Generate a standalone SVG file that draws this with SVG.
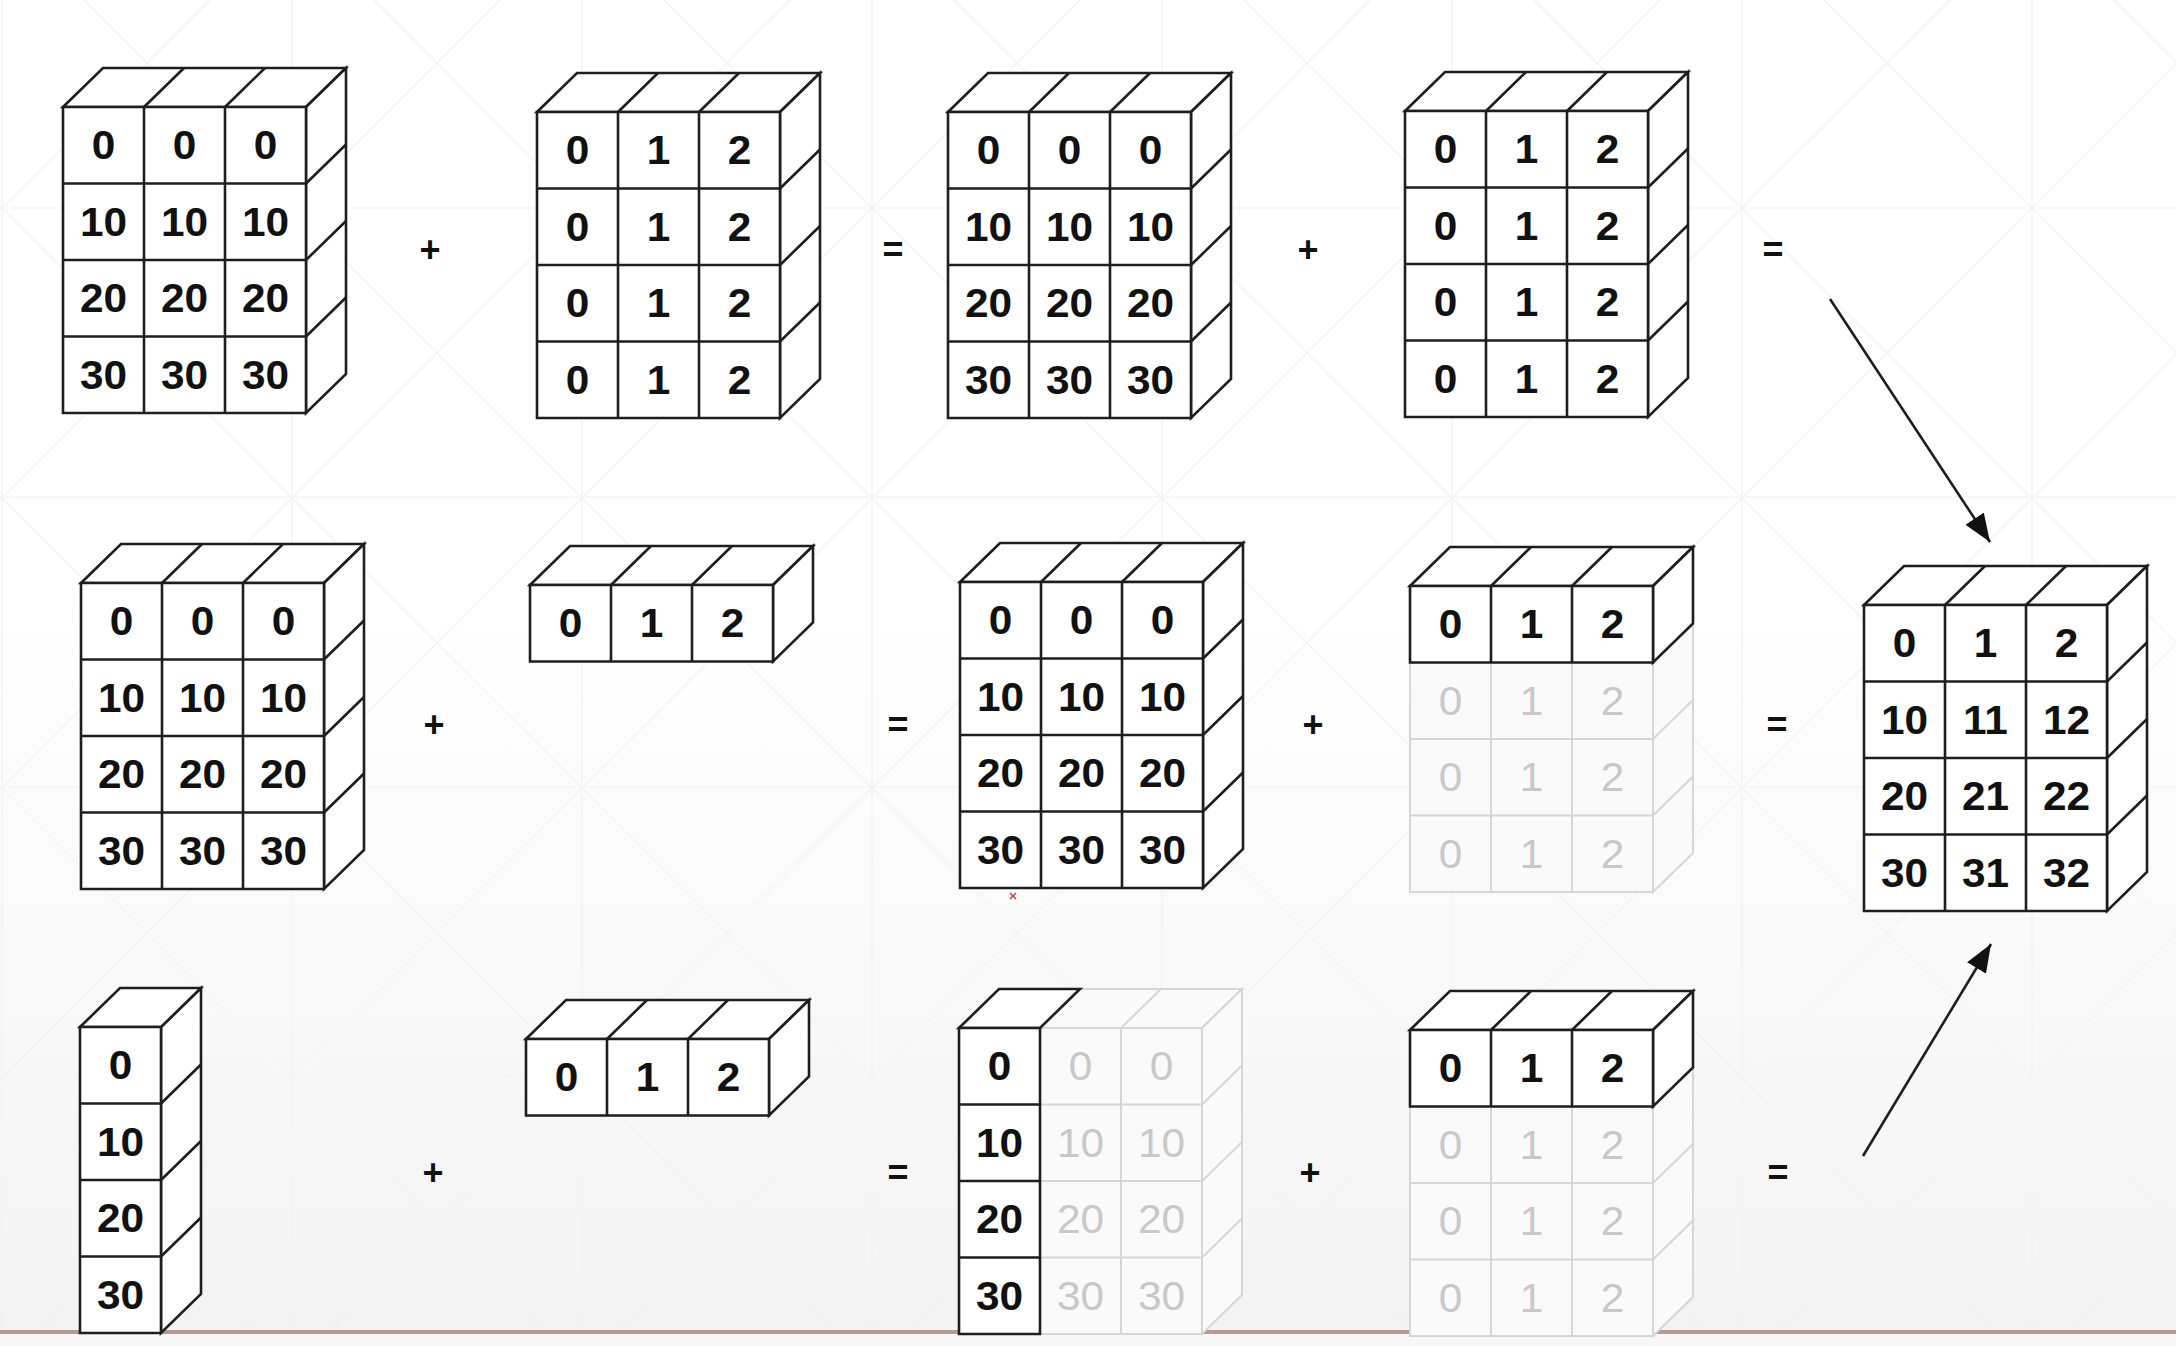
<svg xmlns="http://www.w3.org/2000/svg" xmlns:xlink="http://www.w3.org/1999/xlink" width="2176" height="1346" viewBox="0 0 2176 1346">
<style>
.s{stroke:#1e1e1e;stroke-width:2.6;fill:#ffffff;stroke-linejoin:miter}
.f{stroke:#d6d6d6;stroke-width:2;fill:#fafafa}
.n,.nf,.op{font-family:"Liberation Sans",Arial,sans-serif;text-anchor:middle}
.n{font-weight:700;font-size:40px;fill:#111111;transform-box:fill-box;transform-origin:center;transform:translateY(1.5px) scaleX(1.06)}
.nf{font-weight:400;font-size:40px;fill:#c8c8c8;transform-box:fill-box;transform-origin:center;transform:translateY(1.5px) scaleX(1.06)}
.op{font-weight:700;font-size:36px;fill:#111111}
.grid{stroke:#f2f2f2;stroke-width:1.2;fill:none}
.arrow{stroke:#1e1e1e;stroke-width:2.6;fill:none}
</style>
<defs>
<linearGradient id="bgGrad" x1="0" y1="0" x2="0" y2="1">
<stop offset="0" stop-color="#ffffff"/>
<stop offset="0.45" stop-color="#ffffff"/>
<stop offset="1" stop-color="#f3f3f3"/>
</linearGradient>
<marker id="ah" markerUnits="userSpaceOnUse" markerWidth="30" markerHeight="24" refX="28" refY="11" orient="auto">
<path d="M0,0 L28,11 L0,22 Z" fill="#111111"/>
</marker>
<g id="t3">
<path d="M0,0 L40,-39 L283,-39 L243,0 Z"/>
<path fill="none" d="M81,0 L121,-39 M162,0 L202,-39"/>
</g>
<g id="b34">
<use href="#t3"/>
<path d="M243,0 L283,-39 L283,267 L243,306 Z"/>
<path fill="none" d="M243,76.5 L283,37.5 M243,153 L283,114 M243,229.5 L283,190.5"/>
<path d="M0,0 H243 V306 H0 Z"/>
<path fill="none" d="M81,0 V306 M162,0 V306 M0,76.5 H243 M0,153 H243 M0,229.5 H243"/>
</g>
<g id="b31">
<use href="#t3"/>
<path d="M243,0 L283,-39 L283,37.5 L243,76.5 Z"/>
<path d="M0,0 H243 V76.5 H0 Z"/>
<path fill="none" d="M81,0 V76.5 M162,0 V76.5"/>
</g>
<g id="c14">
<path d="M0,0 L40,-39 L121,-39 L81,0 Z"/>
<path d="M0,0 H81 V306 H0 Z"/>
<path fill="none" d="M0,76.5 H81 M0,153 H81 M0,229.5 H81"/>
</g>
<g id="b14">
<path d="M81,0 L121,-39 L121,267 L81,306 Z"/>
<path fill="none" d="M81,76.5 L121,37.5 M81,153 L121,114 M81,229.5 L121,190.5"/>
<use href="#c14"/>
</g>
</defs>

<g id="background">
<rect x="0" y="0" width="2176" height="1346" fill="url(#bgGrad)"/>
<path class="grid" d="M2,0 V1346 M292,0 V1346 M582,0 V1346 M872,0 V1346 M1162,0 V1346 M1452,0 V1346 M1742,0 V1346 M2032,0 V1346 M0,208 H2176 M0,497 H2176 M0,787 H2176 M0,1076 H2176"/>
<path class="grid" d="M-1366,0 L-20,1346 M-1076,0 L270,1346 M-786,0 L560,1346 M-496,0 L850,1346 M-206,0 L1140,1346 M84,0 L1430,1346 M374,0 L1720,1346 M664,0 L2010,1346 M954,0 L2300,1346 M1244,0 L2590,1346 M1534,0 L2880,1346 M1824,0 L3170,1346 M2114,0 L3460,1346"/>
<path class="grid" d="M210,0 L-1136,1346 M500,0 L-846,1346 M790,0 L-556,1346 M1080,0 L-266,1346 M1370,0 L24,1346 M1660,0 L314,1346 M1950,0 L604,1346 M2240,0 L894,1346 M2530,0 L1184,1346 M2820,0 L1474,1346 M3110,0 L1764,1346 M3400,0 L2054,1346"/>
<rect x="0" y="1334" width="2176" height="12" fill="#f7f7f7"/>
<rect x="0" y="1330" width="2176" height="4" fill="#b39a92"/>
</g>

<!-- Row 1 -->
<g id="r1a">
<use href="#b34" class="s" x="63" y="107"/>
<text class="n" x="103.5" y="158">0</text><text class="n" x="184.5" y="158">0</text><text class="n" x="265.5" y="158">0</text>
<text class="n" x="103.5" y="235">10</text><text class="n" x="184.5" y="235">10</text><text class="n" x="265.5" y="235">10</text>
<text class="n" x="103.5" y="311">20</text><text class="n" x="184.5" y="311">20</text><text class="n" x="265.5" y="311">20</text>
<text class="n" x="103.5" y="388">30</text><text class="n" x="184.5" y="388">30</text><text class="n" x="265.5" y="388">30</text>
</g>
<g id="r1b">
<use href="#b34" class="s" x="537" y="112"/>
<text class="n" x="577.5" y="163">0</text><text class="n" x="658.5" y="163">1</text><text class="n" x="739.5" y="163">2</text>
<text class="n" x="577.5" y="240">0</text><text class="n" x="658.5" y="240">1</text><text class="n" x="739.5" y="240">2</text>
<text class="n" x="577.5" y="316">0</text><text class="n" x="658.5" y="316">1</text><text class="n" x="739.5" y="316">2</text>
<text class="n" x="577.5" y="393">0</text><text class="n" x="658.5" y="393">1</text><text class="n" x="739.5" y="393">2</text>
</g>
<g id="r1c">
<use href="#b34" class="s" x="948" y="112"/>
<text class="n" x="988.5" y="163">0</text><text class="n" x="1069.5" y="163">0</text><text class="n" x="1150.5" y="163">0</text>
<text class="n" x="988.5" y="240">10</text><text class="n" x="1069.5" y="240">10</text><text class="n" x="1150.5" y="240">10</text>
<text class="n" x="988.5" y="316">20</text><text class="n" x="1069.5" y="316">20</text><text class="n" x="1150.5" y="316">20</text>
<text class="n" x="988.5" y="393">30</text><text class="n" x="1069.5" y="393">30</text><text class="n" x="1150.5" y="393">30</text>
</g>
<g id="r1d">
<use href="#b34" class="s" x="1405" y="111"/>
<text class="n" x="1445.5" y="162">0</text><text class="n" x="1526.5" y="162">1</text><text class="n" x="1607.5" y="162">2</text>
<text class="n" x="1445.5" y="239">0</text><text class="n" x="1526.5" y="239">1</text><text class="n" x="1607.5" y="239">2</text>
<text class="n" x="1445.5" y="315">0</text><text class="n" x="1526.5" y="315">1</text><text class="n" x="1607.5" y="315">2</text>
<text class="n" x="1445.5" y="392">0</text><text class="n" x="1526.5" y="392">1</text><text class="n" x="1607.5" y="392">2</text>
</g>

<!-- Row 2 -->
<g id="r2a">
<use href="#b34" class="s" x="81" y="583"/>
<text class="n" x="121.5" y="634">0</text><text class="n" x="202.5" y="634">0</text><text class="n" x="283.5" y="634">0</text>
<text class="n" x="121.5" y="711">10</text><text class="n" x="202.5" y="711">10</text><text class="n" x="283.5" y="711">10</text>
<text class="n" x="121.5" y="787">20</text><text class="n" x="202.5" y="787">20</text><text class="n" x="283.5" y="787">20</text>
<text class="n" x="121.5" y="864">30</text><text class="n" x="202.5" y="864">30</text><text class="n" x="283.5" y="864">30</text>
</g>
<g id="r2b">
<use href="#b31" class="s" x="530" y="585"/>
<text class="n" x="570.5" y="636">0</text><text class="n" x="651.5" y="636">1</text><text class="n" x="732.5" y="636">2</text>
</g>
<g id="r2c">
<use href="#b34" class="s" x="960" y="582"/>
<text class="n" x="1000.5" y="633">0</text><text class="n" x="1081.5" y="633">0</text><text class="n" x="1162.5" y="633">0</text>
<text class="n" x="1000.5" y="710">10</text><text class="n" x="1081.5" y="710">10</text><text class="n" x="1162.5" y="710">10</text>
<text class="n" x="1000.5" y="786">20</text><text class="n" x="1081.5" y="786">20</text><text class="n" x="1162.5" y="786">20</text>
<text class="n" x="1000.5" y="863">30</text><text class="n" x="1081.5" y="863">30</text><text class="n" x="1162.5" y="863">30</text>
</g>
<g id="r2d">
<use href="#b34" class="f" x="1410" y="586"/>
<text class="nf" x="1450.5" y="714">0</text><text class="nf" x="1531.5" y="714">1</text><text class="nf" x="1612.5" y="714">2</text>
<text class="nf" x="1450.5" y="790">0</text><text class="nf" x="1531.5" y="790">1</text><text class="nf" x="1612.5" y="790">2</text>
<text class="nf" x="1450.5" y="867">0</text><text class="nf" x="1531.5" y="867">1</text><text class="nf" x="1612.5" y="867">2</text>
<use href="#b31" class="s" x="1410" y="586"/>
<text class="n" x="1450.5" y="637">0</text><text class="n" x="1531.5" y="637">1</text><text class="n" x="1612.5" y="637">2</text>
</g>
<g id="result">
<use href="#b34" class="s" x="1864" y="605"/>
<text class="n" x="1904.5" y="656">0</text><text class="n" x="1985.5" y="656">1</text><text class="n" x="2066.5" y="656">2</text>
<text class="n" x="1904.5" y="733">10</text><text class="n" x="1985.5" y="733">11</text><text class="n" x="2066.5" y="733">12</text>
<text class="n" x="1904.5" y="809">20</text><text class="n" x="1985.5" y="809">21</text><text class="n" x="2066.5" y="809">22</text>
<text class="n" x="1904.5" y="886">30</text><text class="n" x="1985.5" y="886">31</text><text class="n" x="2066.5" y="886">32</text>
</g>

<!-- Row 3 -->
<g id="r3a">
<use href="#b14" class="s" x="80" y="1027"/>
<text class="n" x="120.5" y="1078">0</text>
<text class="n" x="120.5" y="1155">10</text>
<text class="n" x="120.5" y="1231">20</text>
<text class="n" x="120.5" y="1308">30</text>
</g>
<g id="r3b">
<use href="#b31" class="s" x="526" y="1039"/>
<text class="n" x="566.5" y="1090">0</text><text class="n" x="647.5" y="1090">1</text><text class="n" x="728.5" y="1090">2</text>
</g>
<g id="r3c">
<use href="#b34" class="f" x="959" y="1028"/>
<text class="nf" x="1080.5" y="1079">0</text><text class="nf" x="1161.5" y="1079">0</text>
<text class="nf" x="1080.5" y="1156">10</text><text class="nf" x="1161.5" y="1156">10</text>
<text class="nf" x="1080.5" y="1232">20</text><text class="nf" x="1161.5" y="1232">20</text>
<text class="nf" x="1080.5" y="1309">30</text><text class="nf" x="1161.5" y="1309">30</text>
<use href="#c14" class="s" x="959" y="1028"/>
<text class="n" x="999.5" y="1079">0</text>
<text class="n" x="999.5" y="1156">10</text>
<text class="n" x="999.5" y="1232">20</text>
<text class="n" x="999.5" y="1309">30</text>
</g>
<g id="r3d">
<use href="#b34" class="f" x="1410" y="1030"/>
<text class="nf" x="1450.5" y="1158">0</text><text class="nf" x="1531.5" y="1158">1</text><text class="nf" x="1612.5" y="1158">2</text>
<text class="nf" x="1450.5" y="1234">0</text><text class="nf" x="1531.5" y="1234">1</text><text class="nf" x="1612.5" y="1234">2</text>
<text class="nf" x="1450.5" y="1311">0</text><text class="nf" x="1531.5" y="1311">1</text><text class="nf" x="1612.5" y="1311">2</text>
<use href="#b31" class="s" x="1410" y="1030"/>
<text class="n" x="1450.5" y="1081">0</text><text class="n" x="1531.5" y="1081">1</text><text class="n" x="1612.5" y="1081">2</text>
</g>

<g id="operators">
<text class="op" x="430" y="262">+</text>
<text class="op" x="893" y="262">=</text>
<text class="op" x="1308" y="262">+</text>
<text class="op" x="1773" y="262">=</text>
<text class="op" x="434" y="737">+</text>
<text class="op" x="898" y="737">=</text>
<text class="op" x="1313" y="737">+</text>
<text class="op" x="1777" y="737">=</text>
<text class="op" x="433" y="1185">+</text>
<text class="op" x="898" y="1185">=</text>
<text class="op" x="1310" y="1185">+</text>
<text class="op" x="1778" y="1185">=</text>
</g>

<g id="connectors">
<path class="arrow" d="M1830,299 L1990,542" marker-end="url(#ah)"/>
<path class="arrow" d="M1863,1156 L1991,944" marker-end="url(#ah)"/>
</g>
<path d="M1010,893 L1016,899 M1016,893 L1010,899" stroke="#d04040" stroke-width="1.5" fill="none"/>
</svg>
